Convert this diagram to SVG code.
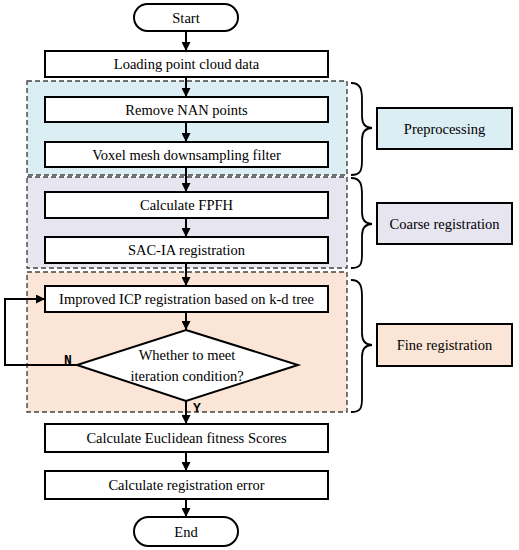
<svg xmlns="http://www.w3.org/2000/svg" width="519" height="550" viewBox="0 0 519 550">
<style>
.box{fill:#fff;stroke:#000;stroke-width:2}
text.t{font-family:'Liberation Serif','Times New Roman',Times,serif;font-size:14.5px;fill:#000;text-anchor:middle;dominant-baseline:central}
text.m{font-family:'Liberation Mono','Courier New',monospace;font-size:13px;font-weight:bold;fill:#000}
.reg{stroke:#444;stroke-width:1.4;stroke-dasharray:5,3}
.c{fill:none;stroke:#000;stroke-width:2}
.br{fill:none;stroke:#000;stroke-width:1.8}
</style>
<defs>
<marker id="ah" viewBox="0 0 10 10" refX="10" refY="5" markerWidth="4.5" markerHeight="4.5" orient="auto" markerUnits="strokeWidth">
<path d="M0,0 L10,5 L0,10 Z" fill="#000"/>
</marker>
</defs>
<g id="regions">
<rect x="27" y="81" width="320" height="94" fill="#dbeef4" class="reg"/>
<rect x="27" y="177" width="320" height="91" fill="#e7e5ef" class="reg"/>
<rect x="27" y="272" width="320" height="140" fill="#fbe5d6" class="reg"/>
</g>
<g id="connectors">
<line class="c" x1="186" y1="31" x2="186" y2="51" marker-end="url(#ah)"/>
<line class="c" x1="186" y1="77" x2="186" y2="97" marker-end="url(#ah)"/>
<line class="c" x1="186" y1="122" x2="186" y2="142" marker-end="url(#ah)"/>
<line class="c" x1="186" y1="167" x2="186" y2="192" marker-end="url(#ah)"/>
<line class="c" x1="186" y1="218" x2="186" y2="237" marker-end="url(#ah)"/>
<line class="c" x1="186" y1="263" x2="186" y2="286" marker-end="url(#ah)"/>
<line class="c" x1="186" y1="312" x2="186" y2="330" marker-end="url(#ah)"/>
<line class="c" x1="186" y1="401" x2="186" y2="424" marker-end="url(#ah)"/>
<line class="c" x1="186" y1="452" x2="186" y2="471" marker-end="url(#ah)"/>
<line class="c" x1="186" y1="499" x2="186" y2="517" marker-end="url(#ah)"/>
<polyline class="c" points="77,365 5,365 5,299 45,299" marker-end="url(#ah)"/>
<text class="m" x="64" y="364" font-family="Liberation Mono, monospace">N</text>
<text class="m" x="193" y="412" font-family="Liberation Mono, monospace">Y</text>
</g>
<g font-family="Liberation Serif, Times New Roman, serif">
<g id="start"><rect class="box" x="134" y="4" width="104" height="27" rx="13.5"/><text class="t" x="186" y="18">Start</text></g>
<g id="load"><rect class="box" x="45" y="51" width="283" height="26"/><text class="t" x="186.5" y="64">Loading point cloud data</text></g>
<g id="nan"><rect class="box" x="45" y="97" width="283" height="25"/><text class="t" x="186.5" y="109.5">Remove NAN points</text></g>
<g id="voxel"><rect class="box" x="45" y="142" width="283" height="25"/><text class="t" x="186.5" y="154.5">Voxel mesh downsampling filter</text></g>
<g id="fpfh"><rect class="box" x="45" y="192" width="283" height="26"/><text class="t" x="186.5" y="205">Calculate FPFH</text></g>
<g id="sac"><rect class="box" x="45" y="237" width="283" height="26"/><text class="t" x="186.5" y="250">SAC-IA registration</text></g>
<g id="icp"><rect class="box" x="45" y="286" width="283" height="26"/><text class="t" x="186.5" y="299">Improved ICP registration based on k-d tree</text></g>
<g id="cond"><polygon class="box" points="186,330 298,365 186,401 77,365"/><text class="t" x="187" y="355">Whether to meet</text><text class="t" x="187" y="376">iteration condition?</text></g>
<g id="euclid"><rect class="box" x="45" y="424" width="283" height="28"/><text class="t" x="186.5" y="438">Calculate Euclidean fitness Scores</text></g>
<g id="err"><rect class="box" x="45" y="471" width="283" height="28"/><text class="t" x="186.5" y="485">Calculate registration error</text></g>
<g id="end"><rect class="box" x="134" y="517" width="104" height="29" rx="14.5"/><text class="t" x="186" y="531.5">End</text></g>
<g id="prep"><rect class="box" x="377" y="108" width="135" height="41" style="fill:#dbeef4"/><text class="t" x="444.5" y="128.5">Preprocessing</text></g>
<g id="coarse"><rect class="box" x="377" y="203" width="135" height="41" style="fill:#e7e5ef"/><text class="t" x="444.5" y="223.5">Coarse registration</text></g>
<g id="fine"><rect class="box" x="377" y="324" width="135" height="42" style="fill:#fbe5d6"/><text class="t" x="444.5" y="345">Fine registration</text></g>
</g>
<g id="braces">
<path class="br" d="M351,83 C361,83 362,90 362,100 L362,116 C362,124 365,128 372,128 C365,128 362,132 362,140 L362,160 C362,170 361,175 351,175"/>
<path class="br" d="M351,178 C361,178 362,185 362,195 L362,212 C362,220 365,224 372,224 C365,224 362,228 362,236 L362,254 C362,264 361,268 351,268"/>
<path class="br" d="M351,280 C361,280 362,287 362,297 L362,333 C362,341 365,345 372,345 C365,345 362,349 362,357 L362,398 C362,408 361,412 351,412"/>
</g>
</svg>
